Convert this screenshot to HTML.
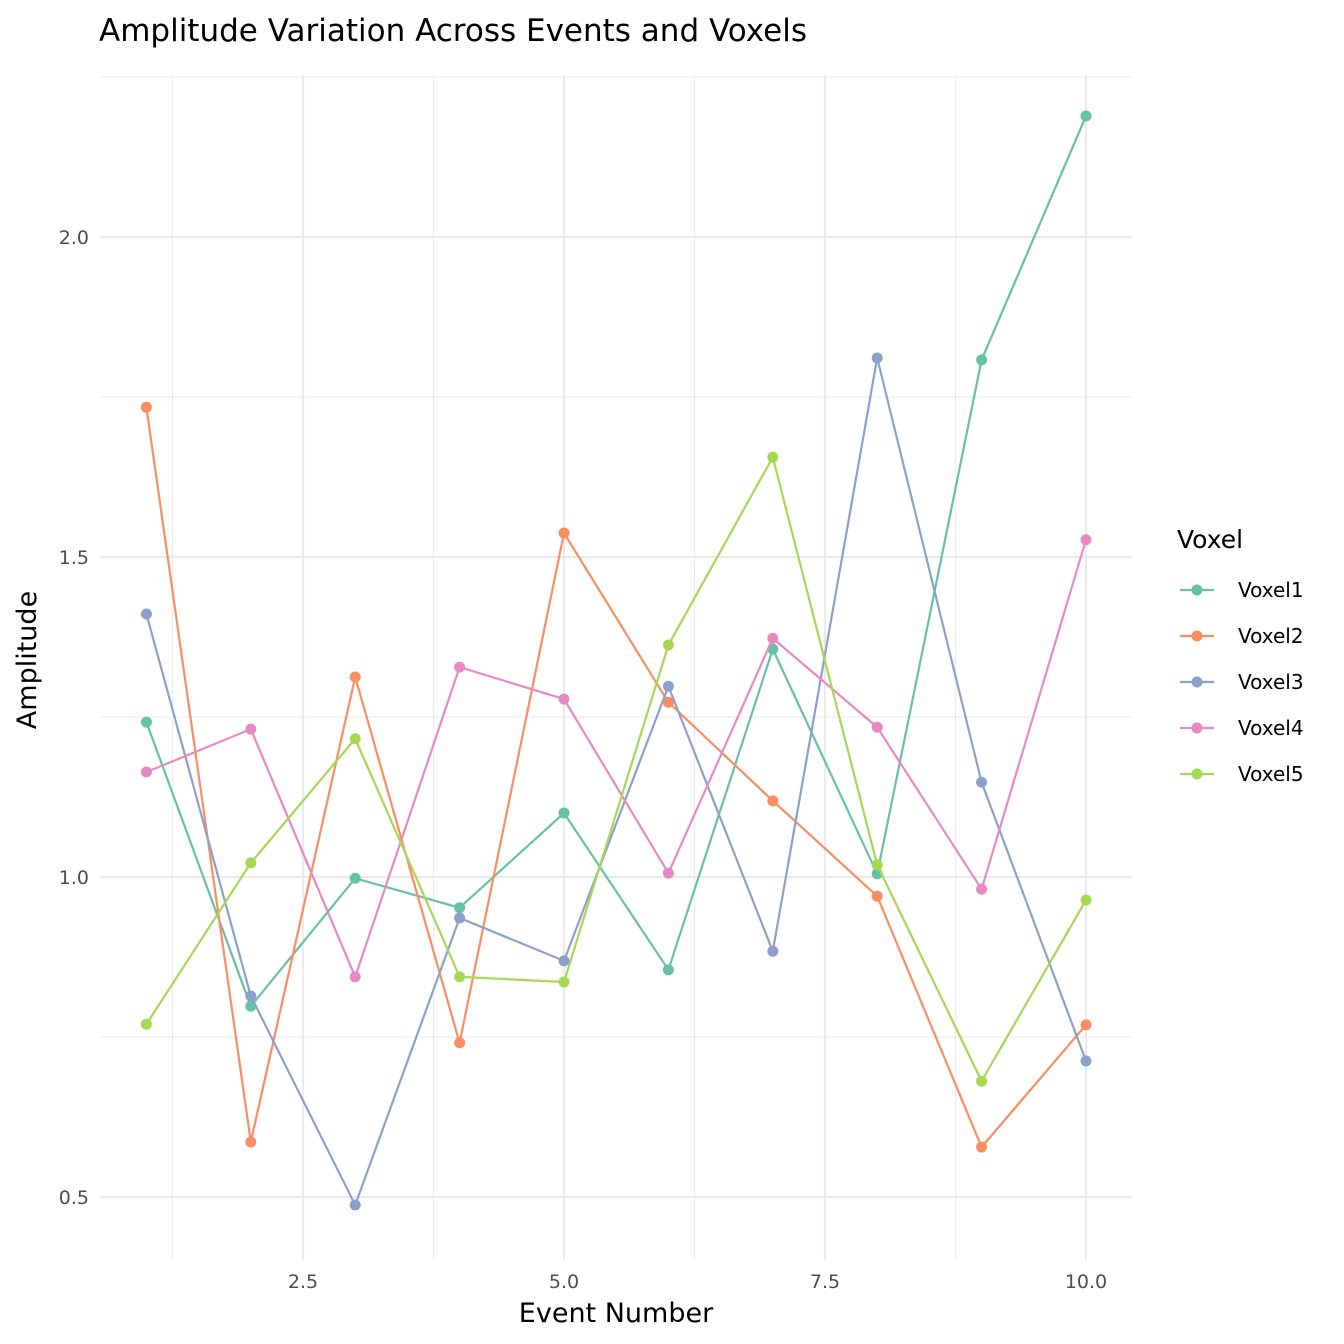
<!DOCTYPE html>
<html><head><meta charset="utf-8"><style>body{margin:0;background:#fff}svg{display:block;font-family:"DejaVu Sans","Liberation Sans",sans-serif}</style></head>
<body>
<svg id="chart" width="1344" height="1344" viewBox="0 0 1344 1344">
<text x="99" y="41" font-size="31" fill="#000">Amplitude Variation Across Events and Voxels</text>
<g id="grid"></g><g id="series"></g><g id="ticks"></g>
<text x="616" y="1322" font-size="27" text-anchor="middle">Event Number</text>
<text transform="translate(36,660) rotate(-90)" font-size="27" text-anchor="middle">Amplitude</text>
<g id="legend"><text x="1177" y="548" font-size="25">Voxel</text></g>
</svg>
<script>
const events=[1,2,3,4,5,6,7,8,9,10];
const seriesNames=["Voxel1","Voxel2","Voxel3","Voxel4","Voxel5"];
const voxel1=[1.242,0.798,0.998,0.952,1.100,0.855,1.356,1.005,1.808,2.189];
const voxel2=[1.734,0.586,1.3125,0.741,1.5375,1.273,1.119,0.970,0.578,0.769];
const voxel3=[1.411,0.814,0.4875,0.936,0.869,1.298,0.884,1.811,1.148,0.7125];
const voxel4=[1.164,1.231,0.844,1.328,1.278,1.006,1.373,1.234,0.981,1.527];
const voxel5=[0.770,1.022,1.216,0.844,0.836,1.3625,1.656,1.019,0.681,0.964];
const xTicks=[2.5,5.0,7.5,10.0];
const xTickLabels=["2.5","5.0","7.5","10.0"];
const yTicks=[0.5,1.0,1.5,2.0];
const yTickLabels=["0.5","1.0","1.5","2.0"];
const colors=["#66c2a5","#fc8d62","#8da0cb","#e78ac3","#a6d854"];
const allSeries=[voxel1,voxel2,voxel3,voxel4,voxel5];
const NS="http://www.w3.org/2000/svg";
const X=v=>303+(v-2.5)*104.4;
const Y=v=>237+(2.0-v)*640;
const L=100,R=1132,T=75,B=1260;
function mk(t,a,p){const e=document.createElementNS(NS,t);for(const k in a)e.setAttribute(k,a[k]);p.appendChild(e);return e;}
const grid=document.getElementById('grid');
[1.25,3.75,6.25,8.75].forEach(v=>{const e=mk('line',{x1:X(v),x2:X(v),y1:T,y2:B,stroke:'#ebebeb','stroke-width':1.1},grid);

});
[0.75,1.25,1.75,2.25].forEach(v=>{const e=mk('line',{x1:L,x2:R,y1:Y(v),y2:Y(v),stroke:'#ebebeb','stroke-width':1.1},grid);

});
xTicks.forEach(v=>{const e=mk('line',{x1:X(v),x2:X(v),y1:T,y2:B,stroke:'#ebebeb','stroke-width':2.2},grid);

});
yTicks.forEach(v=>{const e=mk('line',{x1:L,x2:R,y1:Y(v),y2:Y(v),stroke:'#ebebeb','stroke-width':2.2},grid);

});
const ticks=document.getElementById('ticks');
xTicks.forEach((v,i)=>{const e=mk('text',{x:X(v),y:1288,'font-size':19,fill:'#4d4d4d','text-anchor':'middle'},ticks);e.textContent=xTickLabels[i];

});
yTicks.forEach((v,i)=>{const e=mk('text',{x:89,y:Y(v)+7,'font-size':19,fill:'#4d4d4d','text-anchor':'end'},ticks);e.textContent=yTickLabels[i];

});
const sg=document.getElementById('series');
allSeries.forEach((d,s)=>{
const pl=mk('polyline',{points:d.map((v,i)=>X(events[i])+','+Y(v)).join(' '),fill:'none',stroke:colors[s],'stroke-width':2.2},sg);


d.forEach((v,i)=>{const c=mk('circle',{cx:X(events[i]),cy:Y(v),r:5.5,fill:colors[s]},sg);

});
});
const lg=document.getElementById('legend');
seriesNames.forEach((n,s)=>{const y=590+s*46;
const g=mk('g',{},lg);


mk('line',{x1:1180,x2:1214,y1:y,y2:y,stroke:colors[s],'stroke-width':2.2},g);
mk('circle',{cx:1197,cy:y,r:5.5,fill:colors[s]},g);
const t=mk('text',{x:1238,y:y+7,'font-size':20,fill:'#000'},g);t.textContent=n;});
</script>
</body></html>
